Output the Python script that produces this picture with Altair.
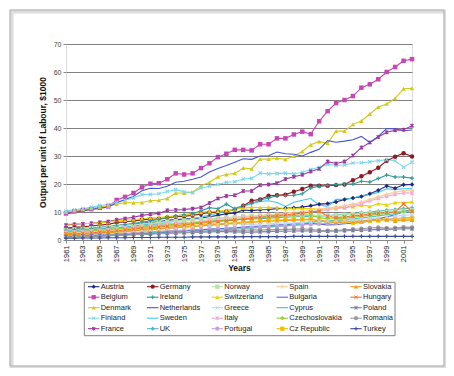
import altair as alt
import pandas as pd

years = list(range(1961, 2003))

countries = ["Austria", "Belgium", "Denmark", "Finland", "France",
             "Germany", "Ireland", "Netherlands", "Sweden", "UK",
             "Norway", "Switzerland", "Greece", "Italy", "Portugal",
             "Spain", "Bulgaria", "Cyprus", "Czechoslovakia", "Cz Republic",
             "Slovakia", "Hungary", "Poland", "Romania", "Turkey"]

austria = [3.9, 4.0, 4.2, 4.3, 4.5, 4.7, 5.2, 5.4, 5.7, 6.0, 6.2, 6.5, 7.0, 7.3, 7.5, 7.7, 7.9, 8.3, 8.8, 9.4, 9.6,
           10.7, 10.5, 10.8, 10.9, 11.2, 11.3, 11.5, 11.8, 12.2, 12.8, 13.0, 13.6, 14.5, 15.0, 15.5, 16.5, 17.8, 19.3, 18.5, 19.7, 19.8]
belgium = [9.5, 10.2, 10.6, 11.0, 11.5, 12.0, 14.3, 15.4, 16.8, 18.8, 20.1, 20.3, 21.7, 23.8, 23.4, 23.8, 25.7, 27.4, 29.6, 30.8, 32.2,
           32.2, 32.0, 34.2, 34.2, 36.3, 36.3, 37.7, 38.7, 37.8, 42.4, 46.0, 48.9, 50.0, 51.4, 54.4, 55.6, 57.4, 60.0, 61.8, 64.0, 64.6]
denmark = [10.0, 10.5, 11.0, 11.3, 11.8, 12.2, 12.8, 13.4, 13.3, 13.4, 14.1, 14.2, 14.8, 16.8, 16.8, 17.0, 19.4, 20.6, 22.6, 23.4, 23.8,
           25.7, 25.4, 28.9, 28.9, 29.2, 28.8, 30.0, 31.6, 34.0, 35.2, 34.5, 38.9, 38.9, 41.3, 42.5, 45.0, 47.5, 48.6, 50.6, 54.0, 54.2]
finland = [10.3, 10.8, 11.2, 11.7, 12.3, 12.7, 13.5, 14.2, 15.0, 16.2, 16.3, 16.5, 17.3, 18.0, 17.2, 17.0, 18.6, 19.2, 19.8, 20.6, 20.8,
           21.8, 22.0, 23.9, 23.6, 23.8, 23.9, 23.6, 24.2, 25.2, 26.0, 27.0, 26.6, 26.8, 27.5, 27.6, 27.9, 28.3, 28.7, 28.3, 26.0, 27.8]
france = [5.3, 5.6, 5.8, 6.0, 6.3, 6.6, 7.2, 7.7, 8.1, 8.8, 9.2, 9.5, 10.6, 10.7, 10.9, 11.2, 11.6, 13.2, 14.8, 15.7, 16.0,
          17.5, 17.5, 19.6, 19.8, 20.3, 21.8, 22.6, 23.3, 24.5, 25.4, 28.0, 27.3, 28.0, 30.2, 33.0, 34.8, 36.8, 38.5, 39.2, 39.4, 40.8]
germany = [4.3, 4.5, 4.7, 5.0, 5.3, 5.6, 6.2, 6.5, 6.8, 7.2, 7.4, 7.6, 8.0, 8.3, 8.5, 8.8, 9.3, 9.8, 10.0, 10.2, 10.8,
           12.2, 14.0, 14.5, 15.8, 16.0, 16.2, 17.2, 18.2, 19.4, 19.4, 19.4, 19.6, 19.8, 21.3, 22.8, 24.2, 25.8, 28.3, 29.7, 31.0, 29.8]
ireland = [3.5, 3.7, 3.9, 4.1, 4.3, 4.5, 5.0, 5.5, 5.9, 6.4, 6.8, 7.3, 8.0, 8.6, 9.1, 9.4, 10.4, 11.5, 11.2, 12.8, 11.2,
           12.3, 13.0, 14.3, 15.0, 15.8, 15.9, 16.0, 16.5, 18.6, 19.2, 19.5, 19.8, 20.0, 20.0, 21.0, 20.7, 22.0, 23.2, 22.5, 22.5, 22.1]
netherlands = [9.3, 9.8, 10.4, 10.9, 11.3, 11.8, 13.3, 14.5, 15.6, 17.6, 18.5, 18.4, 19.2, 20.6, 21.0, 21.7, 22.5, 24.3, 25.5, 26.6, 27.8,
               29.0, 28.8, 30.0, 30.1, 31.4, 30.8, 30.6, 30.0, 31.3, 32.4, 35.5, 34.9, 35.3, 35.8, 37.0, 34.8, 37.0, 39.8, 39.7, 39.0, 39.3]
sweden = [3.0, 3.2, 3.4, 3.6, 3.8, 4.0, 4.4, 4.7, 5.0, 5.4, 5.6, 5.9, 6.3, 6.7, 7.1, 7.6, 8.2, 8.9, 9.6, 10.4, 11.0,
          12.0, 13.0, 13.8, 14.0, 13.4, 12.0, 13.5, 14.2, 14.8, 12.5, 12.0, 14.5, 14.5, 15.0, 15.8, 16.3, 17.0, 18.3, 18.0, 18.3, 18.4]
uk = [3.4, 3.5, 3.7, 3.8, 4.0, 4.2, 4.4, 4.6, 4.8, 5.1, 5.3, 5.5, 5.7, 5.9, 6.1, 6.3, 6.6, 6.8, 7.0, 7.0, 7.2,
      7.3, 7.5, 7.6, 7.8, 8.0, 8.1, 8.3, 8.5, 8.3, 8.5, 8.7, 9.0, 9.2, 9.4, 9.7, 10.0, 10.3, 10.6, 10.9, 11.2, 11.4]
norway = [3.6, 3.8, 4.0, 4.2, 4.4, 4.6, 5.0, 5.3, 5.5, 5.8, 6.0, 6.3, 6.6, 6.8, 7.0, 7.2, 7.4, 7.6, 7.8, 8.0, 8.2,
          8.4, 8.6, 8.7, 8.9, 9.0, 8.8, 8.6, 8.8, 9.0, 8.8, 8.7, 8.8, 9.0, 9.2, 9.5, 9.7, 9.8, 10.0, 10.2, 10.4, 10.6]
switzerland = [5.6, 5.8, 5.8, 6.0, 6.1, 6.3, 7.0, 7.1, 7.3, 7.6, 7.8, 8.0, 8.4, 8.6, 9.0, 9.2, 9.9, 10.2, 10.3, 10.5, 10.9,
               11.4, 11.7, 11.5, 11.7, 11.5, 11.2, 11.3, 11.3, 11.2, 11.0, 11.3, 11.8, 11.5, 11.9, 12.5, 12.0, 13.0, 12.6, 13.4, 13.2, 13.6]
greece = [1.8, 1.9, 2.0, 2.2, 2.4, 2.6, 2.8, 3.0, 3.2, 3.5, 3.7, 3.9, 4.1, 4.3, 4.5, 4.8, 5.0, 5.2, 5.5, 5.8, 5.8,
          5.6, 5.5, 5.7, 5.8, 6.0, 6.0, 6.1, 6.3, 6.5, 6.7, 6.8, 6.9, 7.0, 7.2, 7.5, 7.6, 7.9, 8.2, 8.5, 8.8, 9.0]
italy = [2.8, 2.9, 3.1, 3.3, 3.5, 3.7, 4.1, 4.3, 4.6, 4.9, 5.1, 5.4, 5.7, 5.9, 6.2, 6.4, 6.8, 7.1, 7.4, 7.7, 7.9,
         8.2, 8.3, 8.5, 8.7, 8.9, 9.0, 9.3, 9.6, 10.0, 10.4, 10.9, 11.2, 11.6, 12.3, 13.0, 14.0, 14.8, 15.6, 16.3, 16.9, 16.8]
portugal = [1.5, 1.6, 1.7, 1.8, 1.9, 2.0, 2.2, 2.4, 2.6, 2.8, 3.0, 3.1, 3.3, 3.5, 3.5, 3.6, 3.7, 3.9, 4.0, 4.2, 4.3,
            4.4, 4.5, 4.6, 4.7, 4.8, 5.0, 5.2, 5.4, 5.6, 5.8, 6.0, 6.2, 6.4, 6.6, 6.8, 7.0, 7.3, 7.5, 7.7, 7.9, 8.1]
spain = [2.5, 2.6, 2.8, 3.0, 3.2, 3.4, 3.7, 4.0, 4.3, 4.6, 4.8, 5.1, 5.4, 5.7, 6.0, 6.3, 6.6, 7.0, 7.3, 7.6, 7.9,
         8.1, 8.4, 8.7, 9.0, 9.3, 9.6, 9.9, 10.2, 10.6, 11.0, 11.4, 11.8, 12.2, 12.8, 13.6, 14.5, 15.4, 16.3, 17.1, 17.6, 17.8]
bulgaria = [1.0, 1.1, 1.2, 1.3, 1.4, 1.5, 1.7, 1.9, 2.0, 2.2, 2.4, 2.6, 2.8, 3.0, 3.2, 3.4, 3.6, 3.8, 4.0, 4.2, 4.4,
            4.6, 4.8, 5.0, 5.2, 5.4, 5.5, 5.7, 5.8, 6.0, 5.6, 5.4, 5.5, 5.8, 6.0, 6.3, 6.8, 7.5, 8.3, 9.0, 10.2, 11.0]
cyprus = [1.3, 1.4, 1.5, 1.6, 1.7, 1.8, 2.0, 2.1, 2.3, 2.4, 2.6, 2.8, 3.0, 3.1, 2.6, 2.8, 3.0, 3.3, 3.5, 3.7, 3.9,
          4.1, 4.3, 4.5, 4.7, 4.9, 5.1, 5.4, 5.8, 6.3, 6.6, 6.8, 7.0, 7.3, 7.6, 7.9, 8.2, 8.6, 9.0, 9.4, 9.8, 10.2]
czechoslovakia = [2.8, 3.0, 3.1, 3.3, 3.5, 3.7, 4.0, 4.2, 4.4, 4.6, 4.9, 5.1, 5.4, 5.6, 5.9, 6.1, 6.4, 6.6, 6.9, 7.1, 7.3,
                  7.6, 7.8, 8.0, 8.2, 8.4, 8.6, 8.8, 9.0, 8.8, 8.0, 7.6, 7.6, 7.8, 8.1, 8.5, 8.8, 9.2, 9.5, 9.9, 10.2, 10.4]
cz_republic = [2.0, 2.1, 2.3, 2.4, 2.6, 2.8, 3.0, 3.2, 3.5, 3.7, 4.0, 4.2, 4.4, 4.7, 4.9, 5.1, 5.4, 5.6, 5.8, 6.0, 6.2,
               6.4, 6.6, 6.8, 7.0, 7.1, 7.2, 7.3, 7.4, 7.4, 7.0, 6.6, 6.5, 6.8, 6.2, 6.5, 6.8, 7.0, 7.2, 7.3, 7.5, 7.6]
slovakia = [1.8, 1.9, 2.1, 2.2, 2.4, 2.6, 2.8, 3.0, 3.3, 3.5, 3.7, 3.9, 4.2, 4.4, 4.6, 4.8, 5.0, 5.3, 5.5, 5.7, 5.9,
            6.1, 6.3, 6.5, 6.7, 6.8, 7.0, 7.1, 7.2, 7.3, 6.8, 6.4, 6.3, 6.5, 6.7, 6.9, 7.1, 7.3, 7.5, 6.8, 7.2, 7.1]
hungary = [2.2, 2.3, 2.4, 2.6, 2.8, 3.0, 3.3, 3.6, 3.9, 4.2, 4.4, 4.6, 4.9, 5.2, 5.4, 5.7, 6.0, 6.3, 6.6, 6.9, 7.2,
           7.5, 7.8, 8.1, 8.4, 8.7, 9.0, 9.3, 9.6, 10.0, 10.3, 8.5, 8.0, 8.3, 8.6, 8.9, 9.2, 9.6, 9.8, 10.0, 12.9, 10.2]
poland = [1.2, 1.3, 1.4, 1.5, 1.6, 1.7, 1.8, 1.9, 2.0, 2.1, 2.2, 2.3, 2.4, 2.5, 2.6, 2.7, 2.8, 2.9, 3.0, 3.0, 2.9,
          2.8, 2.8, 2.9, 3.0, 3.1, 3.1, 3.2, 3.3, 3.2, 3.1, 3.1, 3.2, 3.3, 3.4, 3.5, 3.6, 3.8, 3.9, 3.9, 4.0, 4.0]
romania = [1.0, 1.1, 1.2, 1.3, 1.4, 1.5, 1.6, 1.7, 1.9, 2.0, 2.1, 2.3, 2.4, 2.6, 2.7, 2.8, 3.0, 3.1, 3.2, 3.3, 3.4,
           3.5, 3.6, 3.6, 3.7, 3.7, 3.8, 3.9, 4.0, 3.8, 3.5, 3.3, 3.4, 3.6, 3.8, 4.0, 4.3, 4.5, 4.2, 4.3, 4.6, 4.5]
turkey = [0.6, 0.6, 0.7, 0.7, 0.7, 0.8, 0.8, 0.8, 0.9, 0.9, 0.9, 1.0, 1.0, 1.0, 1.0, 1.1, 1.1, 1.1, 1.1, 1.1, 1.1,
          1.2, 1.2, 1.2, 1.2, 1.2, 1.2, 1.3, 1.3, 1.3, 1.3, 1.3, 1.3, 1.3, 1.3, 1.3, 1.3, 1.3, 1.3, 1.3, 1.3, 1.3]

series = [austria, belgium, denmark, finland, france, germany, ireland, netherlands, sweden, uk,
          norway, switzerland, greece, italy, portugal, spain, bulgaria, cyprus, czechoslovakia, cz_republic,
          slovakia, hungary, poland, romania, turkey]

# ---- styles (not data) ----
colors = ["#202880", "#c846b4", "#d4c81a", "#7fd8ec", "#9a35a0",
          "#8c1c24", "#2e9a9a", "#4456d6", "#3cc8f0", "#4ab8c8",
          "#b4e4a8", "#e8d400", "#c0d8f4", "#f4a6d0", "#c8a0e0",
          "#f8cca0", "#4c6ee0", "#48c4bc", "#99cc33", "#f0c000",
          "#f49a1a", "#f07028", "#7878a4", "#9c9c9c", "#3c4c90"]
X_PATH = "M-1,-1L1,1M-1,1L1,-1"
STAR_PATH = "M-1,-1L1,1M-1,1L1,-1M0,-1.2L0,1.2"
PLUS_PATH = "M-1.2,0L1.2,0M0,-1.2L0,1.2"
marker_cycle = ["diamond", "square", "triangle-up", X_PATH, STAR_PATH, "circle", PLUS_PATH, None, None]
shapes = [marker_cycle[i % 9] for i in range(len(countries))]
filled_names = [c for c, s in zip(countries, shapes) if s in ("diamond", "square", "triangle-up", "circle")]
stroked_names = [c for c, s in zip(countries, shapes) if s in (X_PATH, STAR_PATH, PLUS_PATH)]
shape_range = [s if s is not None else "circle" for s in shapes]

rows = []
for name, vals in zip(countries, series):
    for yr, v in zip(years, vals):
        rows.append({"Year": yr, "Country": name, "Value": v})
df = pd.DataFrame(rows)

leg = pd.DataFrame({"Country": countries,
                    "col": [i // 5 for i in range(len(countries))],
                    "row": [i % 5 for i in range(len(countries))]})

W, H = 346, 196
FONT = "Liberation Sans"

color_scale = alt.Scale(domain=countries, range=colors)
shape_scale = alt.Scale(domain=countries, range=shape_range)

x_enc = alt.X("Year:Q", scale=alt.Scale(domain=[1961, 2002], nice=False, zero=False),
              axis=alt.Axis(title="Years", values=list(range(1961, 2002, 2)), format="d",
                            labelAngle=270, labelAlign="right", labelBaseline="middle",
                            labelFontSize=7.5, labelColor="#222", labelPadding=2,
                            tickSize=3, tickColor="#888", domainColor="#888", grid=False,
                            titleFontSize=8.5, titleFontWeight="bold", titleColor="#111",
                            titleX=W / 2, titleY=27, titleBaseline="middle", titleAlign="center",
                            labelFont=FONT, titleFont=FONT))
y_enc = alt.Y("Value:Q", scale=alt.Scale(domain=[0, 70], nice=False),
              axis=alt.Axis(title="Output per unit of Labour, $1000", values=list(range(0, 71, 10)),
                            labelFontSize=7, labelColor="#444", tickSize=3, tickColor="#888",
                            domain=False, grid=True, gridColor="#808080", gridWidth=1,
                            titleFontSize=8.5, titleFontWeight="bold", titleColor="#111",
                            titleX=-24, titleY=H / 2, titleAngle=270, titleBaseline="middle",
                            titleAlign="center", labelFont=FONT, titleFont=FONT))
col_enc = alt.Color("Country:N", scale=color_scale, legend=None)
shp_enc = alt.Shape("Country:N", scale=shape_scale, legend=None)

base = alt.Chart(df)
lines = base.mark_line(strokeWidth=1.1, clip=False).encode(x=x_enc, y=y_enc, color=col_enc)
pts_f = base.mark_point(filled=True, size=20, opacity=1).encode(
    x=x_enc, y=y_enc, color=col_enc, shape=shp_enc
).transform_filter(alt.FieldOneOfPredicate(field="Country", oneOf=filled_names))
pts_s = base.mark_point(filled=False, size=11, strokeWidth=1.1, opacity=1).encode(
    x=x_enc, y=y_enc, color=col_enc, shape=shp_enc
).transform_filter(alt.FieldOneOfPredicate(field="Country", oneOf=stroked_names))
main = alt.layer(lines, pts_f, pts_s)

# ---- legend drawn inside the chart ----
lx = alt.X("col:Q", axis=None,
           scale=alt.Scale(domain=[0, 1, 2, 3, 4], range=[27.7, 86.7, 151.3, 216.3, 290], zero=False, nice=False))
ly = alt.Y("row:Q", axis=None,
           scale=alt.Scale(domain=[0, 4], range=[242.7, 284.7], zero=False, nice=False))
lbase = alt.Chart(leg)
seg = lbase.mark_point(shape="M-1,0L1,0", filled=False, size=130, strokeWidth=1.1, opacity=1).encode(
    x=lx, y=ly, color=col_enc)
lm_f = lbase.mark_point(filled=True, size=18, opacity=1).encode(
    x=lx, y=ly, color=col_enc, shape=shp_enc
).transform_filter(alt.FieldOneOfPredicate(field="Country", oneOf=filled_names))
lm_s = lbase.mark_point(filled=False, size=10, strokeWidth=1, opacity=1).encode(
    x=lx, y=ly, color=col_enc, shape=shp_enc
).transform_filter(alt.FieldOneOfPredicate(field="Country", oneOf=stroked_names))
ltxt = lbase.mark_text(align="left", baseline="middle", dx=7, fontSize=7.5, font=FONT, color="#222").encode(
    x=lx, y=ly, text="Country:N")
legend = alt.layer(seg, lm_f, lm_s, ltxt)

one = pd.DataFrame({"k": [0]})
legend_box = alt.Chart(one).mark_rect(fill="transparent", stroke="#808080", strokeWidth=1).encode(
    x=alt.value(18.3), x2=alt.value(329), y=alt.value(238.3), y2=alt.value(291.7))
shadow2 = alt.Chart(one).mark_rect(fill="transparent", stroke="#dcdcdc", strokeWidth=4).encode(
    x=alt.value(-54.5), x2=alt.value(379.5), y=alt.value(-32.5), y2=alt.value(323.5))
frame = alt.Chart(one).mark_rect(fill="transparent", stroke="#b0b0b0", strokeWidth=1).encode(
    x=alt.value(-56), x2=alt.value(378), y=alt.value(-34), y2=alt.value(322))

chart = alt.layer(shadow2, frame, main, legend_box, legend).resolve_scale(
    x="independent", y="independent"
).properties(
    width=W, height=H,
    autosize=alt.AutoSizeParams(type="none"),
    padding={"left": 58, "top": 36, "right": 34, "bottom": 128},
    background="white",
).configure_view(stroke="#a0a0a0", strokeWidth=1).configure(font=FONT)

chart.save("out.html", embed_options={"renderer": "svg", "actions": False})
